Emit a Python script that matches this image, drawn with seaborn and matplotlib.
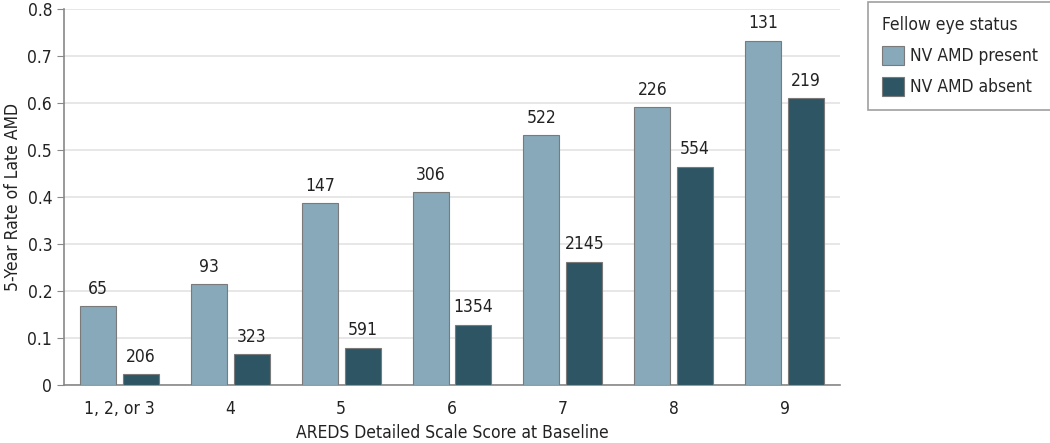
import numpy as np
import pandas as pd
import seaborn as sns
import matplotlib.pyplot as plt
from matplotlib.ticker import FuncFormatter

categories = ["1, 2, or 3", "4", "5", "6", "7", "8", "9"]
present_rate = [0.168, 0.215, 0.387, 0.410, 0.532, 0.591, 0.732]
absent_rate = [0.023, 0.066, 0.079, 0.128, 0.262, 0.464, 0.610]
present_n = [65, 93, 147, 306, 522, 226, 131]
absent_n = [206, 323, 591, 1354, 2145, 554, 219]
groups = ["NV AMD present", "NV AMD absent"]

df = pd.DataFrame({
    "score": categories * 2,
    "rate": present_rate + absent_rate,
    "status": [groups[0]] * len(categories) + [groups[1]] * len(categories),
})

sns.set_style("white")
plt.rcParams['font.family'] = ['DejaVu Sans']
plt.rcParams['font.stretch'] = 'condensed'

fig = plt.figure(figsize=(10.5, 4.43), dpi=100)
ax = fig.add_axes([0.061, 0.131, 0.739, 0.849])

sns.barplot(data=df, x="score", y="rate", hue="status", order=categories,
            hue_order=groups, palette=["#87a9b9", "#2e5564"], saturation=1,
            width=0.774, gap=0.16, edgecolor="#7a7a7a", linewidth=0.8, ax=ax, zorder=3)

for cont, labels in zip(ax.containers, [present_n, absent_n]):
    ax.bar_label(cont, labels=[str(v) for v in labels], padding=6, fontsize=12.5, color="#222222")

ax.set_ylim(0, 0.8)
ax.set_xlim(-0.5, 6.5)
ax.set_yticks(np.arange(0, 0.81, 0.1))
ax.yaxis.set_major_formatter(FuncFormatter(lambda v, p: "0" if v == 0 else f"{v:.1f}"))
ax.grid(axis="y", color="#e3e3e3", linewidth=1.2, zorder=0)
ax.set_axisbelow(True)
for s in ["top", "right"]:
    ax.spines[s].set_visible(False)
for s in ["left", "bottom"]:
    ax.spines[s].set_color("#888888")
    ax.spines[s].set_linewidth(1.2)
ax.tick_params(axis="y", left=True, length=5, color="#888888", labelsize=12.5, labelcolor="#222222")
ax.tick_params(axis="x", bottom=False, labelsize=12.5, labelcolor="#222222", pad=7)
ax.set_xlabel("AREDS Detailed Scale Score at Baseline", fontsize=12.5, color="#222222", labelpad=5)
ax.set_ylabel("5-Year Rate of Late AMD", fontsize=12.5, color="#222222", labelpad=4)

leg = ax.legend(title="Fellow eye status", loc="upper left", bbox_to_anchor=(1.036, 1.019),
                frameon=True, fancybox=False, fontsize=12.5, title_fontsize=12.5,
                borderpad=0.8, handlelength=1.3, handleheight=1.3, labelspacing=0.7,
                handletextpad=0.35, borderaxespad=0)
leg._legend_box.align = "left"
leg.get_frame().set_edgecolor("#888888")
leg.get_frame().set_linewidth(1.2)

fig.savefig("out.png", dpi=100)
